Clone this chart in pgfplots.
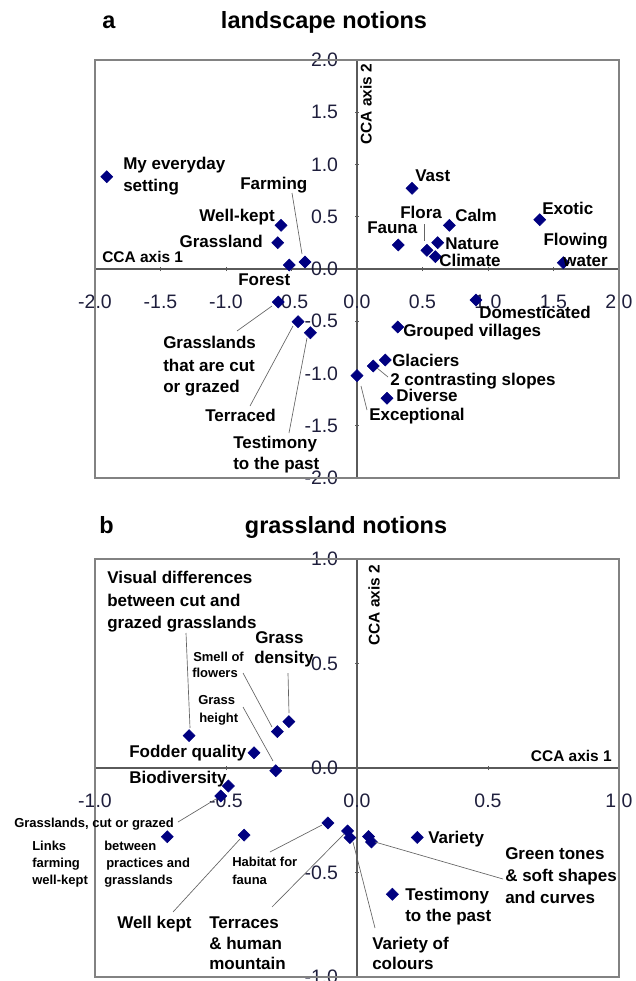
\documentclass[border=0pt]{standalone}
\usepackage{pgfplots}
\pgfplotsset{compat=1.18}
\usepackage{fontspec}
\setmainfont{Liberation Sans}
\definecolor{navymk}{RGB}{0,0,128}
\definecolor{tickcol}{RGB}{30,30,60}
\definecolor{framecol}{RGB}{130,130,130}
\definecolor{axcol}{RGB}{90,90,90}
\definecolor{leadcol}{RGB}{100,100,100}
\pgfplotsset{
  cca/.style={
    scale only axis, width=393pt, height=313.5pt,
    axis lines=middle, axis line style={-, draw=axcol, line width=1pt},
    hide obscured x ticks=false, hide obscured y ticks=false,
    tick style={draw=axcol, line width=0.6pt}, major tick length=3pt,
    tick align=center,
    ticklabel style={font=\fontsize{14.6}{16}\selectfont, text=tickcol, inner sep=0pt},
    xticklabel style={anchor=center, yshift=-23pt},
    yticklabel style={anchor=east, xshift=-12.5pt},
    /pgf/number format/fixed, /pgf/number format/fixed zerofill,
    /pgf/number format/precision=1, /pgf/number format/assume math mode=true,
    clip=false,
  },
  pts/.style={only marks, mark=square*, mark size=3.2pt,
    mark options={rotate=45, draw=navymk, fill=navymk}},
}
\pgfplotstableread{
x y
-1.91 0.883
-0.58 0.418
-0.605 0.252
-0.517 0.038
-0.397 0.067
0.42 0.772
0.705 0.418
0.315 0.230
0.616 0.252
0.534 0.179
0.598 0.118
1.395 0.472
1.575 0.060
-0.601 -0.316
-0.450 -0.504
-0.356 -0.610
0.0 -1.02
0.908 -0.297
0.311 -0.555
0.216 -0.871
0.124 -0.928
0.229 -1.237
}\landscape
\pgfplotstableread{
x y
-0.641 0.155
-0.304 0.174
-0.260 0.222
-0.393 0.073
-0.310 -0.013
-0.491 -0.086
-0.520 -0.134
-0.724 -0.329
-0.431 -0.321
-0.111 -0.263
-0.036 -0.301
-0.027 -0.333
0.044 -0.328
0.055 -0.354
0.230 -0.332
0.135 -0.604
}\grassland
\begin{document}
\begin{tikzpicture}
\begin{axis}[cca, at={(71.25pt,-358.5pt)}, anchor=south west,
  xmin=-2, xmax=2, ymin=-2, ymax=2,
  xtick={-2,-1.5,-1,-0.5,0,0.5,1,1.5,2},
  ytick={-2,-1.5,-1,-0.5,0,0.5,1,1.5,2}]
\draw[framecol, line width=1pt] (rel axis cs:0,0) rectangle (rel axis cs:1,1);
\addplot[pts] table {\landscape};
\end{axis}
\begin{axis}[cca, at={(71.25pt,-732.75pt)}, anchor=south west,
  xmin=-1, xmax=1, ymin=-1, ymax=1,
  xtick={-1,-0.5,0,0.5,1},
  ytick={-1,-0.5,0,0.5,1}]
\draw[framecol, line width=1pt] (rel axis cs:0,0) rectangle (rel axis cs:1,1);
\addplot[pts] table {\grassland};
\end{axis}
\begin{scope}[x=0.75pt, y=-0.75pt,
  lab/.style={font=\fontsize{12.75}{14}\selectfont\bfseries, inner sep=0pt, anchor=base west},
  sml/.style={font=\fontsize{9.75}{11}\selectfont\bfseries, inner sep=0pt, anchor=base west},
  ttl/.style={font=\fontsize{17.6}{20}\selectfont\bfseries, inner sep=0pt},
  axl/.style={font=\fontsize{11.6}{13}\selectfont\bfseries, inner sep=0pt},
  ld/.style={draw=leadcol, line width=0.5pt}]
% titles
\node[ttl, anchor=base west] at (102,29) {a};
\node[ttl, anchor=base] at (324,29) {landscape notions};
\node[ttl, anchor=base west] at (99,533) {b};
\node[ttl, anchor=base] at (346,533) {grassland notions};
% axis names
\node[axl, anchor=base west] at (102,262.5) {CCA axis 1};
\node[axl, rotate=90] at (366,104) {CCA axis 2};
\node[axl, anchor=base east] at (612,761) {CCA axis 1};
\node[axl, rotate=90] at (374,605) {CCA axis 2};
% panel a labels
\node[lab] at (123,169) {My everyday};
\node[lab] at (123,191) {setting};
\node[lab] at (240,189) {Farming};
\draw[ld] (292,193) -- (302,254);
\node[lab, anchor=base east] at (275,221) {Well-kept};
\node[lab, anchor=base east] at (263,247) {Grassland};
\node[lab] at (238,285) {Forest};
\node[lab] at (415,181) {Vast};
\node[lab] at (400,218) {Flora};
\draw[ld] (424,224) -- (424,241);
\node[lab] at (455,221) {Calm};
\node[lab] at (367,233) {Fauna};
\node[lab] at (445,249) {Nature};
\node[lab] at (439,266) {Climate};
\node[lab] at (542,214) {Exotic};
\node[lab, anchor=base east] at (608,245) {Flowing};
\node[lab, anchor=base east] at (608,266) {water};
\node[lab] at (163,348) {Grasslands};
\node[lab] at (163,371) {that are cut};
\node[lab] at (163,392) {or grazed};
\draw[ld] (237,331) -- (272,306);
\node[lab] at (205,421) {Terraced};
\draw[ld] (250,406) -- (293,326);
\node[lab] at (233,448) {Testimony};
\node[lab] at (233,469) {to the past};
\draw[ld] (289,433) -- (307,338);
\node[lab] at (479,318) {Domesticated};
\node[lab] at (403,336) {Grouped villages};
\node[lab] at (392,366) {Glaciers};
\node[lab] at (390,385) {2 contrasting slopes};
\draw[ld] (377,368) -- (388,377);
\node[lab] at (396,401) {Diverse};
\node[lab] at (369,420) {Exceptional};
\draw[ld] (361,386) -- (367,410);
% panel b labels
\node[lab] at (107,583) {Visual differences};
\node[lab] at (107,606) {between cut and};
\node[lab] at (107,628) {grazed grasslands};
\draw[ld] (186,633) -- (190,728);
\node[lab] at (255,643) {Grass};
\node[lab] at (254,663) {density};
\draw[ld] (288,673) -- (289,713);
\node[sml] at (193,661) {Smell of};
\node[sml] at (192,677) {flowers};
\draw[ld] (243,673) -- (272,727);
\node[sml] at (198,704) {Grass};
\node[sml] at (199,722) {height};
\draw[ld] (243,707) -- (273,761);
\node[lab] at (129,757) {Fodder quality};
\node[lab] at (129,783) {Biodiversity};
\node[sml] at (14,827) {Grasslands, cut or grazed};
\draw[ld] (178,822) -- (216,799);
\node[sml] at (32,850) {Links};
\node[sml] at (32,867) {farming};
\node[sml] at (32,884) {well-kept};
\node[sml] at (104,850) {between};
\node[sml] at (106,867) {practices and};
\node[sml] at (104,884) {grasslands};
\node[sml] at (232,866) {Habitat for};
\node[sml] at (232,884) {fauna};
\draw[ld] (270,852) -- (322,825);
\node[lab] at (117,928) {Well kept};
\draw[ld] (173,912) -- (240,839);
\node[lab] at (209,928) {Terraces};
\node[lab] at (209,949) {\& human};
\node[lab] at (209,969) {mountain};
\draw[ld] (272,907) -- (344,834);
\node[lab] at (428,843) {Variety};
\node[lab] at (505,859) {Green tones};
\node[lab] at (505,881) {\& soft shapes};
\node[lab] at (505,903) {and curves};
\draw[ld] (375,842) -- (503,879);
\node[lab] at (405,900) {Testimony};
\node[lab] at (405,921) {to the past};
\node[lab] at (372,949) {Variety of};
\node[lab] at (372,969) {colours};
\draw[ld] (353,842) -- (375,928);
\end{scope}
\pgfresetboundingbox
\path[use as bounding box] (0,0) rectangle (476.25pt,-735.75pt);
\end{tikzpicture}
\end{document}
